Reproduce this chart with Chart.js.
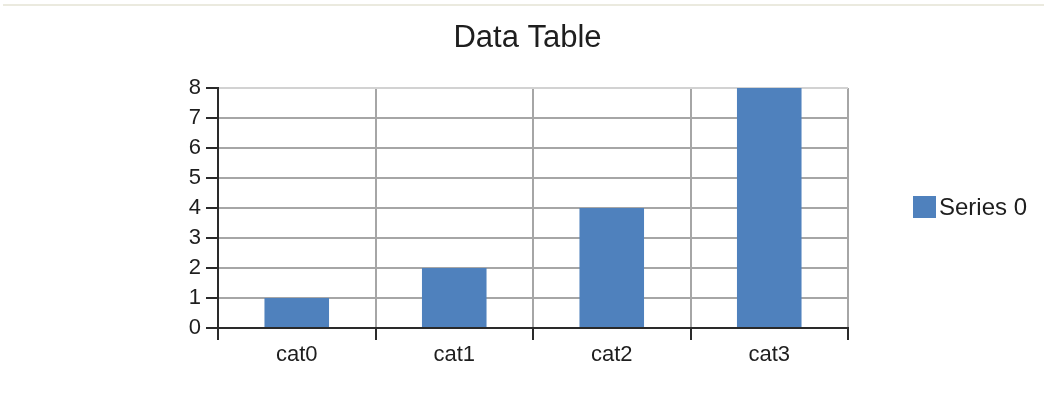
<!DOCTYPE html>
<html>
<head>
<meta charset="utf-8">
<script src="https://cdn.jsdelivr.net/npm/chart.js@4"></script>
<style>
  html, body { margin: 0; padding: 0; background: #fff; }
  #wrap { width: 1044px; height: 404px; position: relative; }
</style>
</head>
<body>
<div id="wrap"><canvas id="c" width="1044" height="404"></canvas></div>
<script>
const chartTitle = "Data Table";
const categories = ["cat0", "cat1", "cat2", "cat3"];
const seriesName = "Series 0";
const seriesValues = [1, 2, 4, 8];
const yTicks = [0, 1, 2, 3, 4, 5, 6, 7, 8];

const FONT = "'Liberation Sans', Arial, sans-serif";
const BAR_COLOR = "#4f81bd";
const TEXT_COLOR = "#1e1e1e";

const decorPlugin = {
  id: "decor",
  afterDraw(chart) {
    const ctx = chart.ctx;
    const area = chart.chartArea;
    ctx.save();
    // top rule
    ctx.fillStyle = "#ebeadf";
    ctx.fillRect(3, 4, 1041, 2);
    // title
    ctx.fillStyle = TEXT_COLOR;
    ctx.font = "31px " + FONT;
    ctx.textAlign = "center";
    ctx.textBaseline = "alphabetic";
    ctx.fillText(chartTitle, 527.5, 47);
    // legend
    const ly = (area.top + area.bottom) / 2;
    ctx.fillStyle = BAR_COLOR;
    ctx.fillRect(913, ly - 12, 23, 22);
    ctx.fillStyle = TEXT_COLOR;
    ctx.font = "24px " + FONT;
    ctx.textAlign = "left";
    ctx.textBaseline = "middle";
    ctx.fillText(seriesName, 939, ly);
    ctx.restore();
  }
};

new Chart(document.getElementById("c"), {
  type: "bar",
  data: {
    labels: categories,
    datasets: [{
      label: seriesName,
      data: seriesValues,
      backgroundColor: BAR_COLOR,
      borderWidth: 0,
      barPercentage: 0.41,
      categoryPercentage: 1.0
    }]
  },
  options: {
    responsive: false,
    animation: false,
    layout: { padding: { top: 88, right: 196, bottom: 0, left: 0 } },
    plugins: {
      legend: { display: false },
      title: { display: false },
      tooltip: { enabled: false }
    },
    scales: {
      x: {
        offset: true,
        afterFit(scale) { scale.height = 76; },
        grid: {
          offset: true,
          drawOnChartArea: true,
          lineWidth: 2,
          tickLength: 12,
          tickWidth: 2,
          tickColor: "#2a2a2a",
          color: (c) => (c.index === categories.length ? "#d2d2d2" : "#a6a6a6")
        },
        border: { color: "#2a2a2a", width: 2 },
        ticks: {
          color: TEXT_COLOR,
          font: { family: FONT, size: 22 },
          padding: 2,
          maxRotation: 0
        }
      },
      y: {
        min: 0,
        max: 8,
        afterFit(scale) { scale.width = 218; },
        afterBuildTicks(scale) { scale.ticks = yTicks.map(v => ({ value: v })); },
        grid: {
          lineWidth: 2,
          tickLength: 12,
          tickWidth: 2,
          tickColor: "#2a2a2a",
          color: (c) => (c.tick && c.tick.value === 8 ? "#d2d2d2" : "#a6a6a6")
        },
        border: { color: "#2a2a2a", width: 2 },
        ticks: {
          color: TEXT_COLOR,
          font: { family: FONT, size: 22 },
          padding: 5,
          stepSize: 1
        }
      }
    }
  },
  plugins: [decorPlugin]
});
</script>
</body>
</html>
